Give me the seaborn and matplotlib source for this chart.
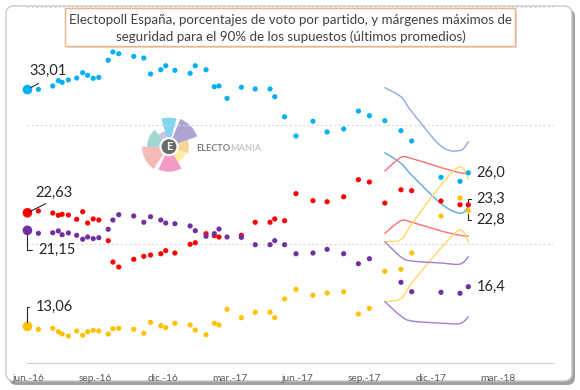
import numpy as np
import pandas as pd
import seaborn as sns
import matplotlib.pyplot as plt
from matplotlib.patches import FancyBboxPatch, Wedge, Circle

################ Datos (meses desde jun.-16) ###############
meses = [-0.04, 0.45, 1.09, 1.34, 1.51, 1.79, 2.16, 2.43, 2.65, 2.90, 3.15,
         3.57, 3.78, 4.04, 4.71, 5.16, 5.46, 5.92, 6.14, 6.55, 7.23, 7.46,
         7.94, 8.31, 8.52, 8.88, 9.52, 10.14, 10.80, 11.01, 11.45, 11.96,
         12.72, 13.35, 14.09, 14.75, 15.24, 15.93, 16.65, 17.13, 18.44,
         19.29, 19.66]
pp = [33.01, 33.03, 33.31, 33.76, 33.62, 33.82, 33.98, 34.43, 34.21, 33.96, 34.04,
      35.48, 36.18, 36.03, 35.81, 35.67, 34.32, 34.68, 35.02, 34.63, 34.38, 35.02,
      34.68, 33.25, 33.31, 32.27, 33.20, 33.06, 33.06, 32.41, 30.72, 29.10,
      30.34, 29.44, 29.69, 31.20, 30.81, 30.39, 29.55, 28.68, 25.62,
      25.28, 26.0]
psoe = [22.63, 22.78, 22.61, 22.42, 22.50, 22.44, 22.08, 22.72, 21.77, 22.11, 22.02,
        20.28, 18.48, 18.06, 18.71, 18.96, 19.07, 19.18, 19.44, 19.24, 19.97, 20.11,
        20.87, 20.70, 20.59, np.nan, 20.73, 21.83, 21.83, 22.11, 21.96, 24.24,
        23.65, 23.56, 23.98, 25.42, 25.22, 23.45, 24.57, 24.49, 23.62,
        23.31, 23.3]
podemos = [21.15, 20.90, 20.95, 21.10, 20.78, 20.93, 20.73, 20.40, 20.59, 20.45, 20.53,
           21.24, 22.02, 22.47, 22.36, 21.83, 22.30, 22.02, 21.77, 21.71, 21.52, 21.12,
           20.65, 20.87, 21.26, 20.59, 20.56, 19.94, 19.94, 20.28, 19.94, 19.18,
           19.24, 19.55, 19.18, 18.34, 18.76, np.nan, 16.77, 15.98, 15.93,
           15.85, 16.4]
cs = [13.06, 12.81, 12.90, 12.61, 12.42, 12.25, 12.67, 12.31, 12.61, 12.73, 12.67,
      12.42, 12.86, 12.90, 12.81, 12.48, 13.40, 13.12, 12.95, 13.32, 13.18, 12.75,
      12.36, 13.32, 13.18, 14.50, 13.79, 14.25, 14.25, 13.79, 15.37, 16.18,
      15.68, 15.87, 15.98, 14.10, 14.58, 17.70, 17.87, 19.24, 22.36,
      23.88, 22.8]

# margenes del 90% (ultimos promedios)
meses_banda = [15.93, 16.65, 17.13, 18.44, 19.29, 19.66]
pp_max = [33.17, 32.4, 31.15, 28.25, 27.88, 28.62]
pp_min = [27.69, 26.8, 25.8, 23.4, 22.59, 23.12]
psoe_max = [26.15, 27.29, 27.2, 26.44, 26.0, 25.96]
psoe_min = [20.90, 21.96, 21.83, 21.10, 20.73, 20.67]
cs_max = [20.19, 20.38, 21.68, 24.97, 26.51, 25.45]
cs_min = [15.14, 15.4, 16.71, 19.66, 21.18, 20.19]
up_max = [20.19, 18.90, 18.57, 18.40, 18.31, 18.93]
up_min = [15.14, 13.93, 13.51, 13.34, 13.30, 13.88]

ticks = [0, 3, 6, 9, 12, 15, 18, 21]
tick_labels = ['jun.-16', 'sep.-16', 'dic.-16', 'mar.-17', 'jun.-17', 'sep.-17', 'dic.-17', 'mar.-18']

colores = {'PP': '#00B0F0', 'PSOE': '#FF0000', 'Unidos Podemos': '#7030A0', "C's": '#FFC000'}

df = pd.concat([
    pd.DataFrame({'mes': meses, 'voto': pp, 'partido': 'PP'}),
    pd.DataFrame({'mes': meses, 'voto': psoe, 'partido': 'PSOE'}),
    pd.DataFrame({'mes': meses, 'voto': podemos, 'partido': 'Unidos Podemos'}),
    pd.DataFrame({'mes': meses, 'voto': cs, 'partido': "C's"}),
]).dropna()
primeros = df[df['mes'] == meses[0]]


def suaviza(xs, ys, n=30):
    # linea suavizada tipo excel (catmull-rom)
    p = np.column_stack([xs, ys])
    p = np.vstack([p[0], p, p[-1]])
    t = np.linspace(0, 1, n)[:, None]
    out = []
    for i in range(1, len(p) - 2):
        p0, p1, p2, p3 = p[i - 1], p[i], p[i + 1], p[i + 2]
        out.append(0.5 * (2 * p1 + (-p0 + p2) * t + (2 * p0 - 5 * p1 + 4 * p2 - p3) * t ** 2
                          + (-p0 + 3 * p1 - 3 * p2 + p3) * t ** 3))
    out = np.vstack(out)
    return out[:, 0], out[:, 1]


################ Figura ###############
sns.set_style('white')
plt.rcParams['font.family'] = ['Lato', 'DejaVu Sans']

fig = plt.figure(figsize=(5.8, 3.9), dpi=100)

# fondo con marco redondeado y sombra
bg = fig.add_axes([0, 0, 1, 1], zorder=0)
bg.set_xlim(0, 580)
bg.set_ylim(390, 0)
bg.axis('off')
bg.add_patch(FancyBboxPatch((9, 9), 566, 376, boxstyle='round,pad=0,rounding_size=8',
                            fc='#808080', ec='none', alpha=0.75))
bg.add_patch(FancyBboxPatch((6, 6), 566, 375, boxstyle='round,pad=0,rounding_size=8',
                            fc='white', ec='#c8c8c8', lw=1))

# logo de marca de agua
lg = fig.add_axes([134 / 580, 1 - 181.7 / 390, 70 / 580, 70 / 390], zorder=0.5)
lg.set_xlim(-35, 35)
lg.set_ylim(-35, 35)
lg.axis('off')
petalos = [(75, 105, 29, '#4FC3E8'), (20, 68, 30, '#8E7CC3'), (-20, 20, 20, '#F8C471'),
           (-60, -20, 18, '#FFEB7A'), (-115, -60, 25, '#EE6FB0'), (-180, -125, 27, '#F29E9E'),
           (130, 180, 22, '#76C7C0'), (105, 130, 16, '#C9A0DC')]
for a1, a2, r, c in petalos:
    lg.add_patch(Wedge((0, 0), r, a1, a2, fc=c, ec='none', alpha=0.7))
lg.add_patch(Circle((0, 0), 8.5, fc='#6a6a6a', ec='white', lw=1.5))
lg.text(0, 0, 'E', ha='center', va='center', color='white', weight='bold', fontsize=8)

# grafico principal
ax = fig.add_axes([27.2 / 580, 1 - 362.7 / 390, 525.8 / 580, 356.1 / 390], zorder=1)
ax.set_facecolor('none')

for xs_max, xs_min, c1, c2 in [(pp_max, pp_min, '#8FAADC', '#5DA9E0'),
                                (psoe_max, psoe_min, '#FF6F73', '#FF6F73'),
                                (cs_max, cs_min, '#FFD966', '#FFD966'),
                                (up_max, up_min, '#A27FCC', '#A27FCC')]:
    x1, y1 = suaviza(meses_banda, xs_max)
    x2, y2 = suaviza(meses_banda, xs_min)
    ax.plot(x1, y1, color=c1, lw=1.0, zorder=2)
    ax.plot(x2, y2, color=c2, lw=1.0, zorder=2)

sns.scatterplot(data=df, x='mes', y='voto', hue='partido', palette=colores, s=14,
                linewidth=0, legend=False, ax=ax, zorder=3)
sns.scatterplot(data=primeros, x='mes', y='voto', hue='partido', palette=colores, s=48,
                linewidth=0, legend=False, ax=ax, zorder=3)
for c in ax.collections:
    c.set_clip_on(False)

ax.set_xlim(-0.05, -0.05 + 525.8 / 22.38)
ax.set_ylim(10, 40)
ax.set_xticks(ticks)
ax.set_xticklabels(tick_labels)
ax.set_yticks([20, 30, 40])
ax.set_yticklabels([])
ax.set_xlabel('')
ax.set_ylabel('')
ax.yaxis.grid(True, color='#D9D9D9', ls=(0, (2, 2)), lw=0.8)
ax.xaxis.grid(False)
for s in ['top', 'left', 'right']:
    ax.spines[s].set_visible(False)
ax.spines['bottom'].set_color('#D0D0D0')
ax.tick_params(axis='x', length=0, pad=8, labelsize=7.3, labelcolor='#595959')
ax.tick_params(axis='y', length=0)

# etiquetas de valores
lab = dict(fontsize=10.5, color='#262626', va='center', ha='left', textcoords='offset pixels')
linea = dict(arrowstyle='-', color='#262626', lw=0.8)
ax.annotate('33,01', xy=(meses[0], pp[0]), xytext=(2, 18.5),
            arrowprops=dict(linea, relpos=(0.5, 0), shrinkA=3, shrinkB=3), **lab)
ax.annotate('22,63', xy=(meses[0], psoe[0]), xytext=(7.5, 20),
            arrowprops=dict(linea, relpos=(0.5, 0), shrinkA=1, shrinkB=2), **lab)
ax.annotate('21,15', xy=(meses[0], podemos[0]), xytext=(11, -20),
            arrowprops=dict(linea, relpos=(0, 0.5), shrinkA=2, shrinkB=3,
                            connectionstyle='angle,angleA=0,angleB=90,rad=0'), **lab)
ax.annotate('13,06', xy=(meses[0], cs[0]), xytext=(8, 19),
            arrowprops=dict(linea, relpos=(0, 0.5), shrinkA=2, shrinkB=3,
                            connectionstyle='angle,angleA=0,angleB=90,rad=0'), **lab)
ax.annotate('26,0', xy=(meses[-1], pp[-1]), xytext=(8.5, 0), **lab)
ax.annotate('16,4', xy=(meses[-1], podemos[-1]), xytext=(8.5, 0), **lab)
ax.annotate('23,3', xy=(meses[-1], psoe[-1]), xytext=(8.5, 5.5),
            arrowprops=dict(linea, relpos=(0, 0.5), shrinkA=2, shrinkB=2,
                            connectionstyle='angle,angleA=0,angleB=90,rad=0'), **lab)
ax.annotate('22,8', xy=(meses[-1], cs[-1]), xytext=(8.5, -9.5),
            arrowprops=dict(linea, relpos=(0, 0.5), shrinkA=2, shrinkB=2,
                            connectionstyle='angle,angleA=0,angleB=90,rad=0'), **lab)

# titulo en caja y texto del logo
fg = fig.add_axes([0, 0, 1, 1], zorder=2)
fg.set_xlim(0, 580)
fg.set_ylim(390, 0)
fg.axis('off')
fg.patch.set_alpha(0)
fg.add_patch(FancyBboxPatch((67, 10.5), 450, 37.7, boxstyle='square,pad=0',
                            fc='#c8c8c8', ec='none', alpha=0.6))
fg.add_patch(FancyBboxPatch((65, 8.3), 450, 37.7, boxstyle='square,pad=0',
                            fc='white', ec='#F4B183', lw=1))
fg.text(290.5, 19.5, 'Electopoll España, porcentajes de voto por partido, y márgenes máximos de',
        ha='center', va='center', fontsize=9.6, color='#404040')
fg.text(290.5, 36.8, 'seguridad para el 90% de los supuestos (últimos promedios)',
        ha='center', va='center', fontsize=9.6, color='#404040')
t1 = fg.text(196.5, 148.7, 'ELECTO', ha='left', va='center', fontsize=6.6, weight='bold', color='#808080')
bb = t1.get_window_extent(fig.canvas.get_renderer())
x_fin = fg.transData.inverted().transform((bb.x1, bb.y0))[0]
fg.text(x_fin, 148.7, 'MANIA', ha='left', va='center', fontsize=6.6, weight='bold', color='#c8c8c8')

fig.savefig('out.png', dpi=100)
